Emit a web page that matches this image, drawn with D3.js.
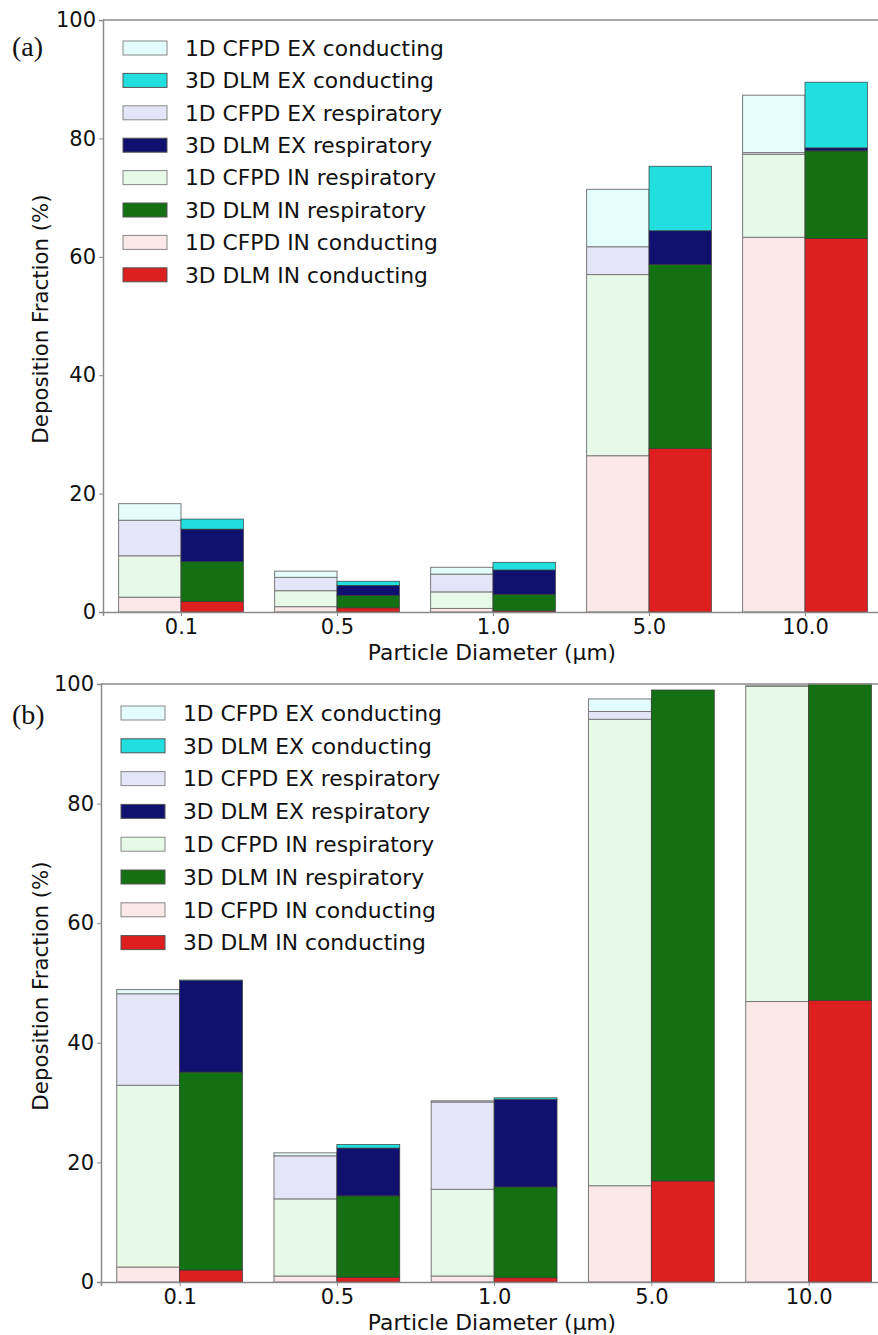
<!DOCTYPE html>
<html><head><meta charset="utf-8">
<script src="https://cdn.jsdelivr.net/npm/d3@7"></script>
<style>
body{margin:0;background:#fff}
svg{display:block}
text{font-family:"DejaVu Sans",sans-serif;fill:#111}
</style>
</head><body>
<svg id="chart" width="878" height="1335"></svg>
<script>
// ---------- data ----------
const categories = ["0.1", "0.5", "1.0", "5.0", "10.0"];
const yTicks = [0, 20, 40, 60, 80, 100];
const legendLabels = [
  "1D CFPD EX conducting", "3D DLM EX conducting",
  "1D CFPD EX respiratory", "3D DLM EX respiratory",
  "1D CFPD IN respiratory", "3D DLM IN respiratory",
  "1D CFPD IN conducting", "3D DLM IN conducting"
];
const stackKeys = ["IN conducting", "IN respiratory", "EX respiratory", "EX conducting"];

// Panel (a)
const cfpdInCondA = [2.5, 0.9, 0.6, 26.4, 63.3];
const cfpdInRespA = [7.0, 2.7, 2.8, 30.6, 14.0];
const cfpdExRespA = [6.0, 2.25, 3.0, 4.7, 0.3];
const cfpdExCondA = [2.8, 1.05, 1.15, 9.7, 9.7];
const dlmInCondA = [1.8, 0.7, 0.2, 27.6, 63.1];
const dlmInRespA = [6.7, 2.1, 2.8, 31.1, 14.8];
const dlmExRespA = [5.5, 1.7, 4.1, 5.7, 0.5];
const dlmExCondA = [1.7, 0.7, 1.3, 10.9, 11.1];

// Panel (b)
const cfpdInCondB = [2.5, 1.0, 1.0, 16.1, 46.9];
const cfpdInRespB = [30.4, 12.9, 14.5, 78.0, 52.7];
const cfpdExRespB = [15.3, 7.2, 14.6, 1.3, 0.1];
const cfpdExCondB = [0.7, 0.5, 0.2, 2.1, 0.0];
const dlmInCondB = [2.0, 0.8, 0.7, 16.9, 47.1];
const dlmInRespB = [33.1, 13.6, 15.2, 82.1, 52.9];
const dlmExRespB = [15.3, 8.0, 14.65, 0.0, 0.0];
const dlmExCondB = [0.1, 0.6, 0.25, 0.0, 0.0];

// ---------- styles ----------
const colors = {
  cfpd: {"EX conducting": "#e3fcfc", "EX respiratory": "#e5e5f9", "IN respiratory": "#e7f9e7", "IN conducting": "#fce8e8"},
  dlm:  {"EX conducting": "#22dfdf", "EX respiratory": "#10106f", "IN respiratory": "#137013", "IN conducting": "#dd1f1f"}
};
const edge = {cfpd: "#7a7a7a", dlm: "#3a3a3a"};
const spine = "#8a8a8a";

const svg = d3.select("#chart");

function buildRows(arrs) {
  return categories.map((c, i) => {
    const r = {cat: c, idx: i};
    stackKeys.forEach((k, j) => r[k] = arrs[j][i]);
    return r;
  });
}

function drawPanel(p) {
  const g = svg.append("g");
  const x = d3.scaleLinear().domain([-0.5, 4.5]).range([p.left, p.left + 5 * p.step]);
  const y = d3.scaleLinear().domain([0, 100]).range([p.bottom, p.top]);
  const barW = 0.4;

  const groups = [
    {model: "cfpd", rows: buildRows(p.cfpd), off: -barW},
    {model: "dlm", rows: buildRows(p.dlm), off: 0}
  ];
  const stack = d3.stack().keys(stackKeys);
  groups.forEach(gr => {
    const layers = stack(gr.rows);
    layers.forEach(layer => {
      g.append("g").selectAll("rect").data(layer).join("rect")
        .attr("x", d => x(d.data.idx + gr.off))
        .attr("width", d => x(d.data.idx + gr.off + barW) - x(d.data.idx + gr.off))
        .attr("y", d => y(d[1]))
        .attr("height", d => Math.max(0, y(d[0]) - y(d[1])))
        .attr("fill", colors[gr.model][layer.key])
        .attr("stroke", edge[gr.model])
        .attr("stroke-width", gr.model === "cfpd" ? 1 : 0.7);
    });
  });

  // spines
  const right = p.left + 5 * p.step;
  g.append("line").attr("x1", p.left).attr("x2", right).attr("y1", p.top).attr("y2", p.top)
    .attr("stroke", spine).attr("stroke-width", 1.5);
  g.append("line").attr("x1", right).attr("x2", right).attr("y1", p.top).attr("y2", p.bottom)
    .attr("stroke", spine).attr("stroke-width", 1.5);

  // axes
  const ya = g.append("g").attr("transform", `translate(${p.left},0)`)
    .call(d3.axisLeft(y).tickValues(yTicks).tickFormat(d3.format("d")).tickSize(4).tickPadding(3));
  ya.select(".domain").attr("stroke", spine).attr("stroke-width", 1.5);
  ya.selectAll(".tick line").attr("stroke", spine);
  ya.selectAll(".tick text").attr("font-size", 21).attr("fill", "#111")
    .attr("font-family", "DejaVu Sans, sans-serif");

  const xa = g.append("g").attr("transform", `translate(0,${p.bottom})`)
    .call(d3.axisBottom(x).tickValues(d3.range(categories.length)).tickFormat(i => categories[i]).tickSize(4).tickPadding(3));
  xa.select(".domain").attr("stroke", spine).attr("stroke-width", 1.5);
  xa.selectAll(".tick line").attr("stroke", spine);
  xa.selectAll(".tick text").attr("font-size", 21).attr("fill", "#111")
    .attr("font-family", "DejaVu Sans, sans-serif");

  // axis labels
  g.append("text").attr("x", 492).attr("y", p.bottom + 48)
    .attr("text-anchor", "middle").attr("font-size", 21.8).text("Particle Diameter (µm)");
  g.append("text").attr("transform", `translate(48,${(p.top + p.bottom) / 2 + 3}) rotate(-90)`)
    .attr("text-anchor", "middle").attr("font-size", 21.3).text("Deposition Fraction (%)");

  // panel tag
  g.append("text").attr("x", 12).attr("y", p.top + p.tagDy)
    .attr("font-size", 28)
    .style("font-family", "'Liberation Serif', serif").text(p.tag);

  // legend
  const lg = g.append("g");
  legendLabels.forEach((lab, i) => {
    const model = lab.startsWith("1D") ? "cfpd" : "dlm";
    const key = lab.replace(/^1D CFPD |^3D DLM /, "");
    const cy = p.legTop + i * p.legStep;
    lg.append("rect").attr("x", p.left + 20).attr("y", cy - 7).attr("width", 44).attr("height", 14)
      .attr("fill", colors[model][key]).attr("stroke", model === "cfpd" ? "#888" : "#555").attr("stroke-width", 1);
    lg.append("text").attr("x", p.left + 82).attr("y", cy + 7.8).attr("font-size", 21.8).text(lab);
  });
}

drawPanel({
  tag: "(a)", tagDy: 36, left: 103, top: 20, bottom: 612, step: 156,
  legTop: 48, legStep: 32.4,
  cfpd: [cfpdInCondA, cfpdInRespA, cfpdExRespA, cfpdExCondA],
  dlm: [dlmInCondA, dlmInRespA, dlmExRespA, dlmExCondA]
});
drawPanel({
  tag: "(b)", tagDy: 40, left: 101, top: 684, bottom: 1282, step: 157.25,
  legTop: 713, legStep: 32.8,
  cfpd: [cfpdInCondB, cfpdInRespB, cfpdExRespB, cfpdExCondB],
  dlm: [dlmInCondB, dlmInRespB, dlmExRespB, dlmExCondB]
});
</script>
</body></html>
